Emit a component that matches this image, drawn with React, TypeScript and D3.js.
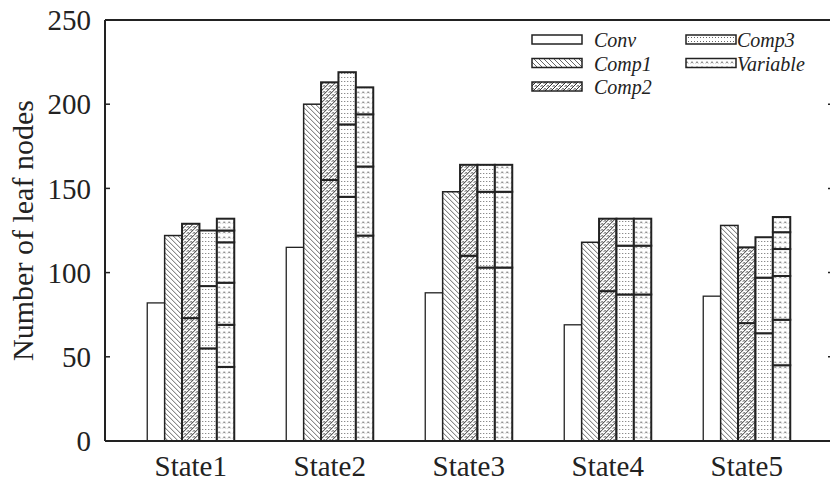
import React from "react";
import * as d3 from "d3";

const states = ["State1", "State2", "State3", "State4", "State5"];
const seriesNames = ["Conv", "Comp1", "Comp2", "Comp3", "Variable"];
// cumulative segment boundaries (top of each stacked segment) per state
const convLevels = [[82], [115], [88], [69], [86]];
const comp1Levels = [[122], [200], [148], [118], [128]];
const comp2Levels = [[73, 129], [155, 213], [110, 164], [89, 132], [70, 115]];
const comp3Levels = [[55, 92, 125], [145, 188, 219], [103, 148, 164], [87, 116, 132], [64, 97, 121]];
const variableLevels = [
  [44, 69, 94, 118, 125, 132],
  [122, 163, 194, 210],
  [103, 148, 164],
  [87, 116, 132],
  [45, 72, 98, 114, 124, 133],
];
const yTicks = [0, 50, 100, 150, 200, 250];

const allLevels = [convLevels, comp1Levels, comp2Levels, comp3Levels, variableLevels];
const fills = ["#ffffff", "url(#pComp1)", "url(#pComp2)", "url(#pComp3)", "url(#pVar)"];
const strokeW = [1.3, 1.5, 2, 2, 2];

const W = 830, H = 482;
const left = 105, right = 833, top = 20, bottom = 441;
const serif = "'Liberation Serif', 'Times New Roman', serif";

export default function App() {
  const y = d3.scaleLinear().domain([0, 250]).range([bottom, top]);
  const x0 = d3.scaleBand<string>().domain(states).range([121.25, 816.25]).paddingInner(0.374).paddingOuter(0.187);
  const x1 = d3.scaleBand<string>().domain(seriesNames).range([0, x0.bandwidth()]).padding(0);

  const legendItems = seriesNames.map((s, i) => {
    const col = i < 3 ? 0 : 1;
    const row = i < 3 ? i : i - 3;
    return { s, i, col, x: col === 0 ? 532 : 686, y: 35 + row * 23.5 };
  });

  return (
    <svg width={W} height={H} style={{ position: "absolute", left: 0, top: 0 }}>
      <defs>
        <pattern id="pComp1" patternUnits="userSpaceOnUse" width="5" height="5">
          <rect width="5" height="5" fill="#fff" />
          <path d="M0,0 L5,5 M-1,4 L1,6 M4,-1 L6,1" stroke="#555" strokeWidth="0.9" />
        </pattern>
        <pattern id="pComp2" patternUnits="userSpaceOnUse" width="6" height="6">
          <rect width="6" height="6" fill="#fff" />
          <path d="M0,6 L6,0 M-1,1 L1,-1 M5,7 L7,5" stroke="#333" strokeWidth="1" fill="none" />
          <path d="M0.5,2.5 Q2,0.6 3.5,2.5 M3.5,5.5 Q5,3.6 6.5,5.5" stroke="#333" strokeWidth="0.9" fill="none" />
        </pattern>
        <pattern id="pComp3" patternUnits="userSpaceOnUse" width="3" height="4">
          <rect width="3" height="4" fill="#fff" />
          <rect x="1" y="1" width="1" height="1" fill="#666" />
        </pattern>
        <pattern id="pVar" patternUnits="userSpaceOnUse" width="5" height="5">
          <rect width="5" height="5" fill="#fff" />
          <path d="M0.8,3.4 L2,1.6 L3.2,3.4" stroke="#777" strokeWidth="0.9" fill="none" />
        </pattern>
      </defs>

      {/* bars */}
      {states.map((st, si) => (
        <g key={st} transform={`translate(${x0(st)},0)`}>
          {seriesNames.map((sn, k) => {
            const levels = allLevels[k][si];
            const bx = x1(sn) as number;
            const bw = x1.bandwidth();
            const bounds = [0, ...levels];
            return (
              <g key={sn}>
                {levels.map((lv, j) => (
                  <rect
                    key={j}
                    x={bx}
                    y={y(lv)}
                    width={bw}
                    height={y(bounds[j]) - y(lv)}
                    fill={fills[k]}
                    stroke="#222"
                    strokeWidth={strokeW[k]}
                  />
                ))}
              </g>
            );
          })}
        </g>
      ))}

      {/* frame */}
      <line x1={left} x2={left} y1={top} y2={bottom} stroke="#222" strokeWidth={2} />
      <line x1={left} x2={W} y1={top} y2={top} stroke="#222" strokeWidth={2} />
      <line x1={left} x2={W} y1={bottom} y2={bottom} stroke="#222" strokeWidth={2} />
      <line x1={right} x2={right} y1={top} y2={bottom} stroke="#222" strokeWidth={2} />

      {/* y ticks */}
      {yTicks.map((t) => (
        <g key={t}>
          <line x1={left} x2={left + 5} y1={y(t)} y2={y(t)} stroke="#222" strokeWidth={1.5} />
          <line x1={right - 5} x2={right} y1={y(t)} y2={y(t)} stroke="#222" strokeWidth={1.5} />
          <text x={left - 14} y={y(t)} dy="0.35em" textAnchor="end" fontFamily={serif} fontSize={29} fill="#222">
            {t}
          </text>
        </g>
      ))}

      {/* x labels */}
      {states.map((st) => (
        <text key={st} x={(x0(st) as number) + x0.bandwidth() / 2} y={476} textAnchor="middle" fontFamily={serif} fontSize={29} fill="#222">
          {st}
        </text>
      ))}

      {/* y title */}
      <text transform={`translate(33,${(top + bottom) / 2}) rotate(-90)`} textAnchor="middle" fontFamily={serif} fontSize={30} fill="#222">
        Number of leaf nodes
      </text>

      {/* legend */}
      {legendItems.map((d) => (
        <g key={d.s}>
          <rect x={d.x} y={d.y} width={50} height={9} fill={fills[d.i]} stroke="#222" strokeWidth={1.5} />
          <text x={d.x + (d.col === 1 ? 51 : 62)} y={d.y + 12} fontFamily={serif} fontStyle="italic" fontSize={20} fill="#222">
            {d.s}
          </text>
        </g>
      ))}
    </svg>
  );
}
